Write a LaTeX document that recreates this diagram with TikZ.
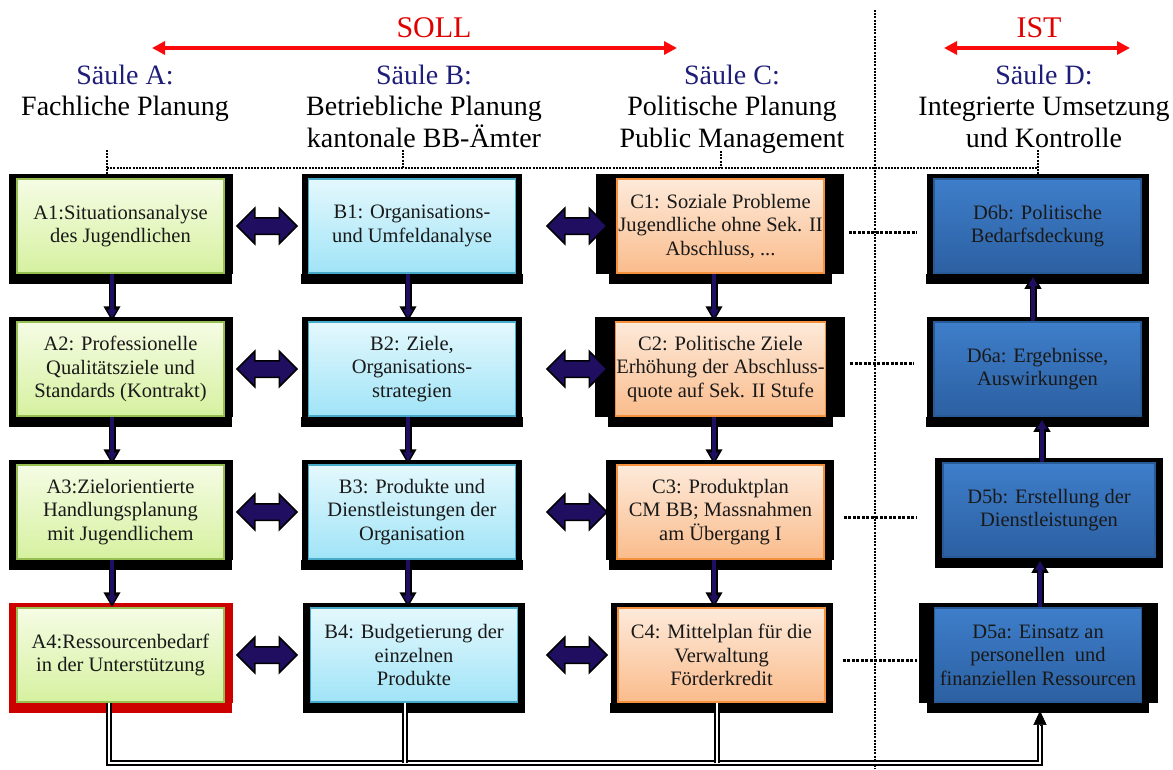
\documentclass[tikz,border=0pt]{standalone}
\usepackage{fontspec}
\setmainfont{Liberation Serif}
\usetikzlibrary{arrows.meta,shapes.arrows,calc}
\pgfdeclarelayer{paper}
\pgfdeclarelayer{background}
\pgfsetlayers{paper,background,main}

\definecolor{navytext}{RGB}{30,30,120}
\definecolor{sollred}{RGB}{225,0,0}
\definecolor{arrred}{RGB}{250,10,10}
\definecolor{arrnavy}{RGB}{32,14,96}
\definecolor{gTop}{RGB}{245,252,228}
\definecolor{gBot}{RGB}{214,241,160}
\definecolor{gLine}{RGB}{150,190,80}
\definecolor{cTop}{RGB}{228,248,253}
\definecolor{cBot}{RGB}{160,228,247}
\definecolor{cLine}{RGB}{70,170,200}
\definecolor{oTop}{RGB}{253,234,218}
\definecolor{oBot}{RGB}{250,188,140}
\definecolor{oLine}{RGB}{245,145,60}
\definecolor{bTop}{RGB}{62,126,202}
\definecolor{bBot}{RGB}{44,96,162}
\definecolor{bLine}{RGB}{40,90,150}
\definecolor{frameRed}{RGB}{205,0,0}

% black (or red) frame behind a box: side wings plus a heavier bottom strip
\newcommand\pframe[4]{%
  \fill[#4] ([xshift=-#2pt,yshift=4pt]#1.north west) rectangle ([xshift=#3pt]#1.south east);
  \fill[#4] ([xshift=-7pt]#1.south west) rectangle ([xshift=7pt,yshift=-10pt]#1.south east);}

% downward / upward arrow between two boxes
\newcommand\varrow[2]{%
  \draw[varrout] #1 -- #2;
  \draw[varrin] #1 -- #2;}

\tikzset{
  box/.style={rectangle, minimum width=207pt, minimum height=94pt, inner sep=1pt,
    align=center, line width=1.5pt, text=black!90,
    font=\fontsize{20.5}{23.5}\selectfont},
  greenbox/.style={box, draw=gLine, top color=gTop, bottom color=gBot},
  cyanbox/.style={box, draw=cLine, top color=cTop, bottom color=cBot},
  orangebox/.style={box, draw=oLine, top color=oTop, bottom color=oBot},
  bluebox/.style={box, draw=bLine, top color=bTop, bottom color=bBot},
  head/.style={anchor=base, inner sep=0pt, font=\fontsize{28}{32}\selectfont},
  saeule/.style={head, text=navytext},
  titel/.style={anchor=base, inner sep=0pt, text=sollred, font=\fontsize{30}{34}\selectfont},
  redarr/.style={draw=arrred, line width=3.5pt,
    {Triangle[width=13pt,length=13pt]}-{Triangle[width=13pt,length=13pt]}},
  varrout/.style={draw=black, line width=7pt, -{Triangle[width=16pt,length=15pt]}},
  varrin/.style={draw=arrnavy, line width=3.5pt, -{Triangle[width=9pt,length=9pt]}, shorten >=3pt},
  harr/.style={double arrow, draw=black, line width=1.5pt, fill=arrnavy,
    minimum height=60pt, inner xsep=0pt, inner ysep=7.5pt,
    double arrow head extend=9.5pt},
  thindot/.style={draw=black, line width=2pt, dash pattern=on 2pt off 1.2pt},
  rowdot/.style={draw=black, line width=3pt, dash pattern=on 3pt off 1.5pt},
  bus/.style={draw=black, line width=1.6pt, double=white, double distance=2pt},
}

\begin{document}
\begin{tikzpicture}[x=1pt, y=-1pt]
\useasboundingbox (0,0) rectangle (1173,769);
\begin{pgfonlayer}{paper}
  \fill[white] (0,0) rectangle (1173,769);
\end{pgfonlayer}

% ---------- titles ----------
\node[titel] (soll) at (434,37) {SOLL};
\coordinate (sollL) at (152,48);
\coordinate (sollR) at (677,48);
\draw[redarr] (sollL) -- (sollR);
\node[titel] (ist) at (1039,37) {IST};
\coordinate (istL) at (944,48);
\coordinate (istR) at (1130,48);
\draw[redarr] (istL) -- (istR);

\node[saeule] (hA0) at (125,84) {Säule A:};
\node[head]   (hA1) at (125,115) {Fachliche Planung};
\node[saeule] (hB0) at (424,84) {Säule B:};
\node[head]   (hB1) at (424,115) {Betriebliche Planung};
\node[head]   (hB2) at (424,147) {kantonale BB-Ämter};
\node[saeule] (hC0) at (732,84) {Säule C:};
\node[head]   (hC1) at (732,115) {Politische Planung};
\node[head]   (hC2) at (732,147) {Public Management};
\node[saeule] (hD0) at (1044,84) {Säule D:};
\node[head]   (hD1) at (1044,115) {Integrierte Umsetzung};
\node[head]   (hD2) at (1044,147) {und Kontrolle};

% ---------- boxes ----------
\node[greenbox] (A1) at (120.5,226) {A1:Situationsanalyse\\des Jugendlichen};
\node[greenbox] (A2) at (120.5,369) {A2: Professionelle\\Qualitätsziele und\\Standards (Kontrakt)};
\node[greenbox] (A3) at (120.5,512) {A3:Zielorientierte\\Handlungsplanung\\mit Jugendlichem};
\node[greenbox] (A4) at (120.5,655) {A4:Ressourcenbedarf\\in der Unterstützung};

\node[cyanbox] (B1) at (412,226) {B1: Organisations-\\und Umfeldanalyse};
\node[cyanbox] (B2) at (412,369) {B2: Ziele,\\Organisations-\\strategien};
\node[cyanbox] (B3) at (412,512) {B3: Produkte und\\Dienstleistungen der\\Organisation};
\node[cyanbox] (B4) at (414,655) {B4: Budgetierung der\\einzelnen\\Produkte};

\node[orangebox] (C1) at (720.5,226) {C1: Soziale Probleme\\Jugendliche ohne Sek. II\\Abschluss, ...};
\node[orangebox] (C2) at (720.5,369) {C2: Politische Ziele\\Erhöhung der Abschluss-\\quote auf Sek. II Stufe};
\node[orangebox] (C3) at (720.5,512) {C3: Produktplan\\CM BB; Massnahmen\\am Übergang I};
\node[orangebox] (C4) at (721.5,655) {C4: Mittelplan für die\\Verwaltung\\Förderkredit};

\node[bluebox] (D6b) at (1037.5,226) {D6b: Politische\\Bedarfsdeckung};
\node[bluebox] (D6a) at (1037.5,369) {D6a: Ergebnisse,\\Auswirkungen};
\node[bluebox, minimum width=212pt] (D5b) at (1049,510) {D5b: Erstellung der\\Dienstleistungen};
\node[bluebox] (D5a) at (1038,655) {D5a: Einsatz an\\personellen~ und\\finanziellen Ressourcen};

% ---------- frames ----------
\begin{pgfonlayer}{background}
  \pframe{A1}{7}{8}{black}
  \pframe{A2}{7}{8}{black}
  \pframe{A3}{7}{8}{black}
  \pframe{A4}{7}{8}{frameRed}
  \pframe{B1}{6}{6}{black}
  \pframe{B2}{6}{6}{black}
  \pframe{B3}{6}{6}{black}
  \pframe{B4}{7}{7}{black}
  \pframe{C1}{20}{19}{black}
  \pframe{C2}{20}{19}{black}
  \pframe{C3}{10}{9}{black}
  \pframe{C4}{6}{7}{black}
  \pframe{D6b}{6}{7}{black}
  \pframe{D6a}{6}{7}{black}
  \pframe{D5b}{7}{7}{black}
  \pframe{D5a}{15}{16}{black}
\end{pgfonlayer}

% ---------- dotted bracket and separator ----------
\coordinate (barY) at (0,168);
\coordinate (tA) at (107,150);
\coordinate (tB) at (403,150);
\coordinate (tC) at (721,151);
\coordinate (tD) at (1038,150);
\draw[thindot] (tA |- barY) -- (tD |- barY);
\draw[thindot] (tA) -- (tA |- A1.north);
\draw[thindot] (tB) -- (tB |- barY);
\draw[thindot] (tC) -- (tC |- barY);
\draw[thindot] (tD) -- (tD |- D6b.north);

\coordinate (sepT) at (875,10);
\coordinate (sepB) at (875,769);
\draw[thindot, line width=2.4pt] (sepT) -- (sepB);

% ---------- C to D dotted links ----------
\draw[rowdot] ([xshift=24pt,yshift=-6pt]C1.east) -- ([xshift=-16pt,yshift=-6pt]D6b.west);
\draw[rowdot] ([xshift=24pt,yshift=6pt]C2.east) -- ([xshift=-19pt,yshift=6pt]D6a.west);
\draw[rowdot] ([xshift=19pt,yshift=-5pt]C3.east) -- ([xshift=-25pt,yshift=-7pt]D5b.west);
\draw[rowdot] ([xshift=17pt,yshift=-5pt]C4.east) -- ([xshift=-17pt,yshift=-5pt]D5a.west);

% ---------- horizontal double arrows ----------
\node[harr] (hAB1) at (267,226) {};
\node[harr] (hAB2) at (267,369) {};
\node[harr] (hAB3) at (267,512) {};
\node[harr] (hAB4) at (267,655) {};
\node[harr] (hBC1) at (577,226) {};
\node[harr] (hBC2) at (577,369) {};
\node[harr] (hBC3) at (577,512) {};
\node[harr] (hBC4) at (577,655) {};

% ---------- vertical arrows ----------
\coordinate (vA) at (112,0);
\coordinate (vB) at (408,0);
\coordinate (vC) at (714,0);
\varrow{(A1.south -| vA)}{(A2.north -| vA)}
\varrow{(A2.south -| vA)}{(A3.north -| vA)}
\varrow{(A3.south -| vA)}{(A4.north -| vA)}
\varrow{(B1.south -| vB)}{(B2.north -| vB)}
\varrow{(B2.south -| vB)}{(B3.north -| vB)}
\varrow{(B3.south -| vB)}{(B4.north -| vB)}
\varrow{(C1.south -| vC)}{(C2.north -| vC)}
\varrow{(C2.south -| vC)}{(C3.north -| vC)}
\varrow{(C3.south -| vC)}{(C4.north -| vC)}
\coordinate (vD1) at (1040,0);
\coordinate (vD2) at (1042,0);
\coordinate (vD3) at (1033,0);
\varrow{(D5a.north -| vD1)}{(D5b.south -| vD1)}
\varrow{(D5b.north -| vD2)}{(D6a.south -| vD2)}
\varrow{(D6a.north -| vD3)}{(D6b.south -| vD3)}

% ---------- resource bus back to D5a ----------
\coordinate (busY) at (0,763);
\coordinate (busA) at (109,0);
\coordinate (busB) at (405,0);
\coordinate (busC) at (717,0);
\coordinate (busD) at (1040,0);
\coordinate (dEnd) at ([yshift=-22pt]D5a.south -| busD);
\coordinate (dTip) at ([yshift=-8pt]D5a.south -| busD);
\draw[bus] (A4.south -| busA) |- (busD |- busY) -- (dEnd);
\draw[bus] (B4.south -| busB) -- (busB |- busY);
\draw[bus] (C4.south -| busC) -- (busC |- busY);
\draw[black, line width=0.5pt, -{Triangle[width=13pt,length=14pt]}] (dEnd) -- (dTip);
\end{tikzpicture}
\end{document}
